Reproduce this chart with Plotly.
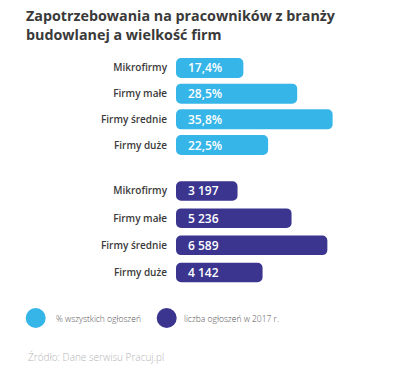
import plotly.graph_objects as go

# ---- data ----
categories = ["Mikrofirmy", "Firmy małe", "Firmy średnie", "Firmy duże"]
share_pct = [17.4, 28.5, 35.8, 22.5]
share_labels = ["17,4%", "28,5%", "35,8%", "22,5%"]
ad_counts = [3197, 5236, 6589, 4142]
ad_labels = ["3 197", "5 236", "6 589", "4 142"]
legend_labels = ["% wszystkich ogłoszeń", "liczba ogłoszeń w 2017 r."]
title_text = "Zapotrzebowania na pracowników z branży<br>budowlanej a wielkość firm"
source_text = "Źródło: Dane serwisu Pracuj.pl"

# ---- style ----
W, H = 400, 366
LIGHT = "#36b5e9"
DARK = "#3b3590"
FONT = "Open Sans"
TOP_RANGE = [3.5, 49.7]
BOT_RANGE = [873, 9332]


def px_x(x):
    return x / W


def px_y(y):
    return 1 - y / H


fig = go.Figure()
annotations = []


def add_group(values, labels, color, xa, ya, rng, width):
    start = rng[0]
    fig.add_trace(go.Bar(y=categories, x=[v - start for v in values], base=start,
                         orientation="h", width=width,
                         marker=dict(color=color, cornerradius=5, line=dict(width=0)),
                         xaxis=xa, yaxis=ya, hoverinfo="skip", showlegend=False))
    for c, lab in zip(categories, labels):
        annotations.append(dict(x=start, y=c, xref=xa, yref=ya, text=lab,
                                showarrow=False, xanchor="left", yanchor="middle",
                                xshift=10,
                                font=dict(family=FONT, size=12, color="white", weight=600)))


add_group(share_pct, share_labels, LIGHT, "x", "y", TOP_RANGE, 0.78)
add_group(ad_counts, ad_labels, DARK, "x2", "y2", BOT_RANGE, 0.72)

yaxis_common = dict(type="category", categoryorder="array", categoryarray=categories,
                    autorange="reversed", showgrid=False, zeroline=False, showline=False,
                    ticks="", ticklabelstandoff=8,
                    tickfont=dict(family=FONT, size=10, color="#3a3a3a", weight=600))
xaxis_common = dict(visible=False, showgrid=False, zeroline=False)

# legend (decorative)
shapes = []
leg_pos = [(35.7, 54), (166.7, 182)]
leg_colors = [LIGHT, DARK]
for (cx, tx), col, lab in zip(leg_pos, leg_colors, legend_labels):
    shapes.append(dict(type="circle", xref="paper", yref="paper",
                       x0=px_x(cx - 10), x1=px_x(cx + 10), y0=px_y(328), y1=px_y(308),
                       fillcolor=col, line=dict(width=0)))
    annotations.append(dict(x=px_x(tx), y=px_y(318), xref="paper", yref="paper",
                            text=lab, showarrow=False, xanchor="left", yanchor="middle",
                            font=dict(family=FONT, size=8.5, color="#555555", weight=300)))

annotations.append(dict(x=px_x(26), y=px_y(357), xref="paper", yref="paper",
                        text=source_text, showarrow=False, xanchor="left", yanchor="middle",
                        font=dict(family=FONT, size=10, color="#b5b5b5", weight=300)))

fig.update_layout(
    width=W, height=H,
    margin=dict(l=0, r=0, t=0, b=0),
    paper_bgcolor="white", plot_bgcolor="white",
    barmode="overlay",
    title=dict(text=title_text, x=px_x(26), xanchor="left", xref="container",
               y=1 - 21 / H, yanchor="middle", yref="container",
               font=dict(family=FONT, size=14.3, color="#3a3a3a", weight=700)),
    xaxis=dict(domain=[0.44, 1], range=TOP_RANGE, anchor="y", **xaxis_common),
    yaxis=dict(domain=[px_y(157.85), px_y(55.15)], anchor="x", **yaxis_common),
    xaxis2=dict(domain=[0.44, 1], range=BOT_RANGE, anchor="y2", **xaxis_common),
    yaxis2=dict(domain=[px_y(286.1), px_y(177.4)], anchor="x2", **yaxis_common),
    shapes=shapes,
    annotations=annotations,
)

fig.write_html("out.html", config={"displayModeBar": False},
               post_script="document.body.style.margin='0px';document.body.style.overflow='hidden';")
